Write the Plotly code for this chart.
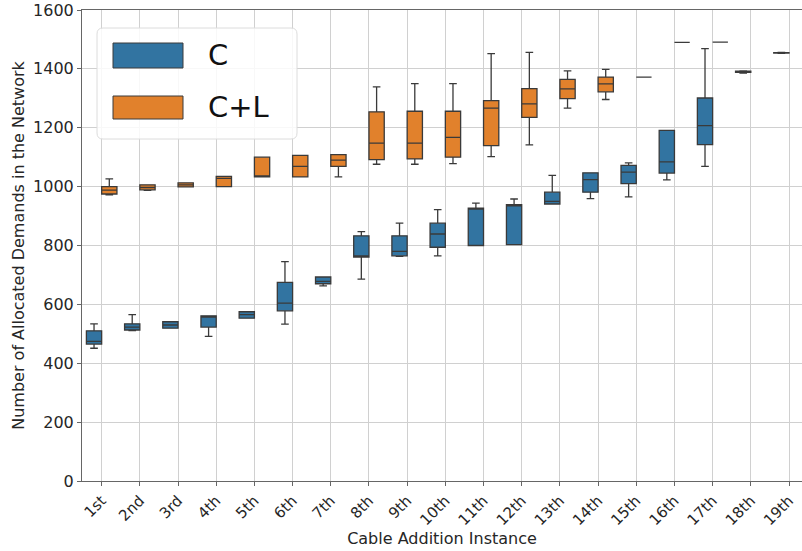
import plotly.graph_objects as go

# Cable addition instances along the x axis
categories = ["1st", "2nd", "3rd", "4th", "5th", "6th", "7th", "8th", "9th", "10th",
              "11th", "12th", "13th", "14th", "15th", "16th", "17th", "18th", "19th"]

# Box statistics for scenario C (all 19 instances)
c_low = [451, 511, 519, 491, 553, 533, 663, 686, 763, 765, 800, 803, 941, 959, 965, 1023, 1069, 1386, 1453]
c_q1 = [465, 513, 519, 523, 553, 578, 670, 761, 765, 794, 800, 803, 941, 981, 1010, 1046, 1143, 1388, 1454]
c_med = [474, 523, 530, 557, 565, 604, 678, 763, 780, 839, 924, 935, 950, 1024, 1049, 1084, 1207, 1390, 1454]
c_q3 = [510, 534, 541, 561, 575, 675, 693, 833, 833, 876, 927, 939, 981, 1047, 1072, 1191, 1301, 1392, 1455]
c_high = [534, 565, 541, 561, 575, 745, 693, 847, 876, 922, 944, 958, 1038, 1047, 1081, 1191, 1469, 1393, 1456]

# Box statistics for scenario C+L (first 17 instances)
cl_low = [972, 987, 999, 1000, 1033, 1033, 1033, 1076, 1076, 1078, 1102, 1142, 1267, 1296, 1372, 1490, 1491]
cl_q1 = [975, 989, 999, 1000, 1033, 1033, 1069, 1092, 1094, 1100, 1139, 1235, 1299, 1322, 1372, 1490, 1491]
cl_med = [988, 997, 1006, 1028, 1035, 1069, 1090, 1148, 1148, 1167, 1267, 1281, 1332, 1349, 1372, 1490, 1491]
cl_q3 = [1000, 1006, 1013, 1035, 1100, 1106, 1109, 1254, 1256, 1256, 1292, 1333, 1364, 1372, 1372, 1490, 1491]
cl_high = [1026, 1006, 1013, 1035, 1100, 1106, 1109, 1339, 1350, 1350, 1452, 1456, 1393, 1398, 1372, 1490, 1491]

series_names = ["C", "C+L"]
series_colors = ["#3274a1", "#e1812c"]
edge_color = "#3a3a3a"
font_family = "DejaVu Sans"

fig = go.Figure()

fig.add_trace(go.Box(
    name=series_names[0], x=categories[:len(c_q1)],
    lowerfence=c_low, q1=c_q1, median=c_med, q3=c_q3, upperfence=c_high,
    fillcolor=series_colors[0], line=dict(color=edge_color, width=1.3),
    boxpoints=False, whiskerwidth=0.5, showlegend=False,
))
fig.add_trace(go.Box(
    name=series_names[1], x=categories[:len(cl_q1)],
    lowerfence=cl_low, q1=cl_q1, median=cl_med, q3=cl_q3, upperfence=cl_high,
    fillcolor=series_colors[1], line=dict(color=edge_color, width=1.3),
    boxpoints=False, whiskerwidth=0.5, showlegend=False,
))

# Plot area geometry in pixels (used for the hand-drawn legend)
W, H = 802, 551
ml, mr, mt, mb = 82, 0, 10, 70
pw, ph = W - ml - mr, H - mt - mb


def px_x(x):
    return (x - ml) / pw


def px_y(y):
    return (H - mb - y) / ph


def rounded_rect(x0, y0, x1, y1, r):
    # rounded rectangle path in paper coordinates from pixel corners
    rx, ry = r / pw, r / ph
    X0, X1 = px_x(x0), px_x(x1)
    Yt, Yb = px_y(y0), px_y(y1)
    return (f"M {X0 + rx},{Yt} L {X1 - rx},{Yt} Q {X1},{Yt} {X1},{Yt - ry} "
            f"L {X1},{Yb + ry} Q {X1},{Yb} {X1 - rx},{Yb} "
            f"L {X0 + rx},{Yb} Q {X0},{Yb} {X0},{Yb + ry} "
            f"L {X0},{Yt - ry} Q {X0},{Yt} {X0 + rx},{Yt} Z")


shapes = [dict(type="path", xref="paper", yref="paper",
               path=rounded_rect(97, 28, 297, 139, 6),
               fillcolor="rgba(255,255,255,0.85)", line=dict(color="#dcdcdc", width=1),
               layer="above")]
annotations = []
legend_rows = [(43, 68), (96, 119)]
for name, color, (ya, yb) in zip(series_names, series_colors, legend_rows):
    shapes.append(dict(type="rect", xref="paper", yref="paper",
                       x0=px_x(113), x1=px_x(183), y0=px_y(yb), y1=px_y(ya),
                       fillcolor=color, line=dict(color=edge_color, width=1), layer="above"))
    annotations.append(dict(xref="paper", yref="paper", x=px_x(206), y=px_y((ya + yb) / 2),
                            text=name, showarrow=False, xanchor="left", yanchor="middle",
                            font=dict(family=font_family, size=29, color="#111111")))

fig.update_layout(
    width=W, height=H,
    margin=dict(l=ml, r=mr, t=mt, b=mb, pad=0),
    paper_bgcolor="white", plot_bgcolor="white",
    boxmode="group", boxgap=0.2, boxgroupgap=0.0,
    font=dict(family=font_family, size=16, color="#262626"),
    shapes=shapes, annotations=annotations,
)

fig.update_xaxes(
    type="category", categoryorder="array", categoryarray=categories,
    range=[-0.515, 18.34], tickangle=-45,
    showgrid=True, gridcolor="#d0d0d0", gridwidth=1,
    showline=True, linecolor="#666666", linewidth=1, mirror=True,
    ticks="outside", ticklen=4, tickcolor="#666666",
    tickfont=dict(size=15),
    title=dict(text="Cable Addition Instance", font=dict(size=16), standoff=3),
)
fig.update_yaxes(
    range=[0, 1600], dtick=200, tick0=0,
    showgrid=True, gridcolor="#d0d0d0", gridwidth=1,
    showline=True, linecolor="#666666", linewidth=1, mirror=True,
    ticks="outside", ticklen=4, tickcolor="#666666",
    tickfont=dict(size=16), zeroline=False,
    title=dict(text="Number of Allocated Demands in the Network", font=dict(size=16), standoff=4),
)

fig.write_html("out.html")
